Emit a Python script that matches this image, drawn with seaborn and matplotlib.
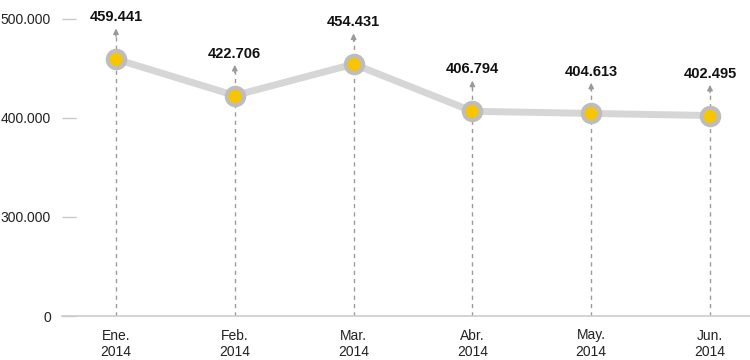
import matplotlib
matplotlib.use('Agg')
import matplotlib.pyplot as plt
import seaborn as sns
import pandas as pd

months = ['Ene.\n2014', 'Feb.\n2014', 'Mar.\n2014', 'Abr.\n2014', 'May.\n2014', 'Jun.\n2014']
values = [459441, 422706, 454431, 406794, 404613, 402495]
labels = ['459.441', '422.706', '454.431', '406.794', '404.613', '402.495']
ytick_vals = [200000, 300000, 400000, 500000]
ytick_labels = ['0', '300.000', '400.000', '500.000']

sns.set_theme(style='white')
plt.rcParams['font.family'] = ['Liberation Sans', 'DejaVu Sans']

df = pd.DataFrame({'pos': range(len(months)), 'value': values})

fig = plt.figure(figsize=(7.5, 3.6), dpi=100)
ax = fig.add_axes([62 / 750, 44 / 360, 688 / 750, 316 / 360])

y0 = 200000
# dashed guides with arrow heads
for i, v in enumerate(values):
    ax.vlines(i, y0, v + 25000, colors='#9a9a9a', linestyles=(0, (3, 3)), linewidth=1, zorder=1)
    ax.annotate('', xy=(i, v + 31000), xytext=(i, v + 23000),
                arrowprops=dict(arrowstyle='-|>', color='#9a9a9a', lw=1,
                                mutation_scale=8, shrinkA=0, shrinkB=0), zorder=1)
    ax.annotate(labels[i], xy=(i, v + 31000), xytext=(0, 3), textcoords='offset points',
                ha='center', va='bottom', fontsize=10.5, fontweight='bold', color='#111111')

sns.lineplot(data=df, x='pos', y='value', ax=ax, color='#d6d6d6', linewidth=5,
             marker='o', markersize=12.5, markerfacecolor='#f7c600',
             markeredgecolor='#bdbdbd', markeredgewidth=3, zorder=3)

ax.set_xlim(-54 / 118.8, 5 + 40 / 118.8)
ax.set_ylim(y0, 500000 + 19 / 297 * 300000)
ax.set_xticks(range(len(months)))
ax.set_xticklabels(months, fontsize=10, color='#222222', linespacing=1.25)
ax.set_yticks(ytick_vals)
ax.set_yticklabels(ytick_labels, fontsize=10, color='#222222')
ax.tick_params(axis='y', direction='in', length=10, width=1, color='#c8c8c8', pad=8, left=True)
ax.tick_params(axis='x', length=0, pad=9)
ax.set_xlabel('')
ax.set_ylabel('')
for s in ['top', 'right', 'left']:
    ax.spines[s].set_visible(False)
ax.spines['bottom'].set_color('#cccccc')
ax.spines['bottom'].set_linewidth(1.2)
ax.grid(False)

fig.savefig('out.png', dpi=100)
